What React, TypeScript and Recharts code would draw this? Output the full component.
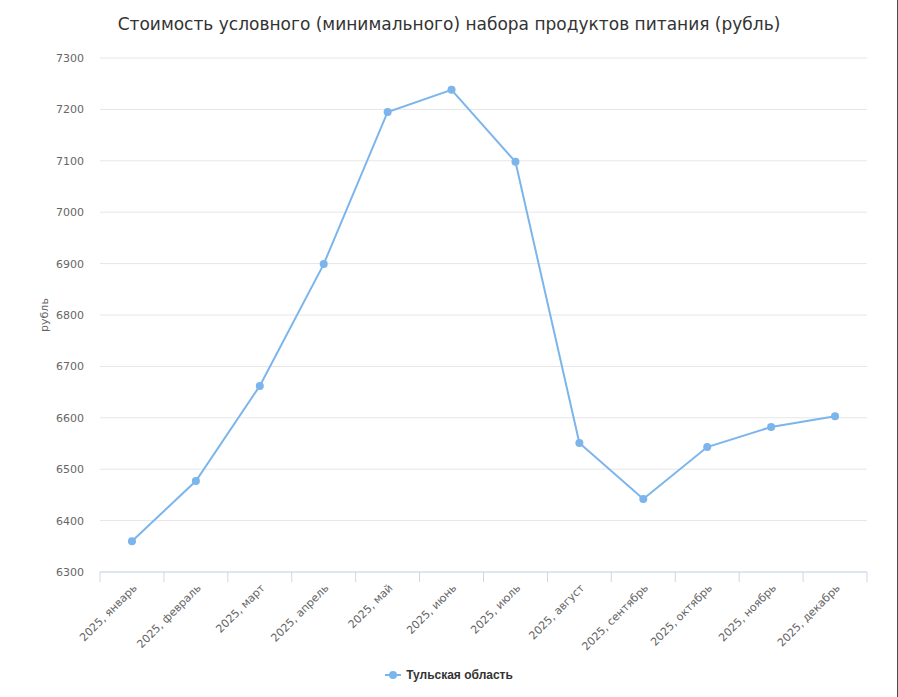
import { LineChart, Line, XAxis, YAxis, CartesianGrid, Legend } from "recharts";

const months = [
  "2025, январь",
  "2025, февраль",
  "2025, март",
  "2025, апрель",
  "2025, май",
  "2025, июнь",
  "2025, июль",
  "2025, август",
  "2025, сентябрь",
  "2025, октябрь",
  "2025, ноябрь",
  "2025, декабрь",
];

const tulaValues = [6360, 6477, 6662, 6899, 7195, 7238, 7098, 6551, 6442, 6543, 6582, 6603];

const yTicks = [6300, 6400, 6500, 6600, 6700, 6800, 6900, 7000, 7100, 7200, 7300];

const seriesName = "Тульская область";
const color = "#7cb5ec";

const data = months.map((m, i) => ({ month: m, value: tulaValues[i] }));

const font = "'DejaVu Sans', sans-serif";
const chartW = 898;
const marginRight = 31;
const yAxisW = 100;
const labelGap = 11;
const halfBand = (chartW - marginRight - yAxisW) / months.length / 2;

function MonthTick(props: any) {
  const { x, y, payload, index } = props;
  const axisY = y - labelGap;
  const last = index === months.length - 1;
  return (
    <g>
      <line x1={x - halfBand} y1={axisY} x2={x - halfBand} y2={axisY + 10} stroke="#ccd6eb" />
      {last && <line x1={x + halfBand} y1={axisY} x2={x + halfBand} y2={axisY + 10} stroke="#ccd6eb" />}
      <text
        x={x}
        y={y}
        transform={`rotate(-45, ${x}, ${y})`}
        textAnchor="end"
        dy={8}
        fontFamily={font}
        fontSize={11}
        fill="#666"
      >
        {payload.value}
      </text>
    </g>
  );
}

function LegendContent() {
  return (
    <div style={{ display: "flex", justifyContent: "center", alignItems: "center" }}>
      <svg width={16} height={12} style={{ marginRight: 5 }}>
        <line x1={0} y1={6} x2={16} y2={6} stroke={color} strokeWidth={2} />
        <circle cx={8} cy={6} r={4} fill={color} />
      </svg>
      <span style={{ fontFamily: "'Liberation Sans', Arial, sans-serif", fontWeight: "bold", fontSize: 12, color: "#333" }}>
        {seriesName}
      </span>
    </div>
  );
}

export default function App() {
  return (
    <div
      style={{
        position: "absolute",
        left: 0,
        top: 0,
        width: 897,
        height: 697,
        background: "#fff",
        borderRight: "1px solid #4a4a4a",
      }}
    >
      <div
        style={{
          position: "absolute",
          top: 14,
          left: 0,
          width: chartW,
          textAlign: "center",
          fontFamily: font,
          fontSize: 17,
          color: "#333",
        }}
      >
        Стоимость условного (минимального) набора продуктов питания (рубль)
      </div>
      <LineChart width={chartW} height={697} data={data} margin={{ top: 58, right: marginRight, left: 0, bottom: 25 }}>
        <CartesianGrid vertical={false} stroke="#e6e6e6" />
        <XAxis
          dataKey="month"
          scale="band"
          axisLine={{ stroke: "#ccd6eb" }}
          tickLine={false}
          interval={0}
          tickSize={0}
          tickMargin={labelGap}
          height={86}
          tick={<MonthTick />}
        />
        <YAxis
          domain={[6300, 7300]}
          ticks={yTicks}
          axisLine={false}
          tickLine={false}
          tickSize={8}
          tickMargin={8}
          width={yAxisW}
          tick={{ fontFamily: font, fontSize: 11, fill: "#666" }}
          label={{
            value: "рубль",
            angle: -90,
            position: "insideLeft",
            offset: 44,
            style: { textAnchor: "middle", fontFamily: font, fontSize: 11, fill: "#666" },
          }}
        />
        <Legend content={<LegendContent />} wrapperStyle={{ top: 668, left: 0, width: chartW }} />
        <Line
          type="linear"
          dataKey="value"
          name={seriesName}
          stroke={color}
          strokeWidth={2}
          dot={{ r: 4, fill: color, stroke: color, strokeWidth: 0 }}
          activeDot={false}
          isAnimationActive={false}
        />
      </LineChart>
    </div>
  );
}
